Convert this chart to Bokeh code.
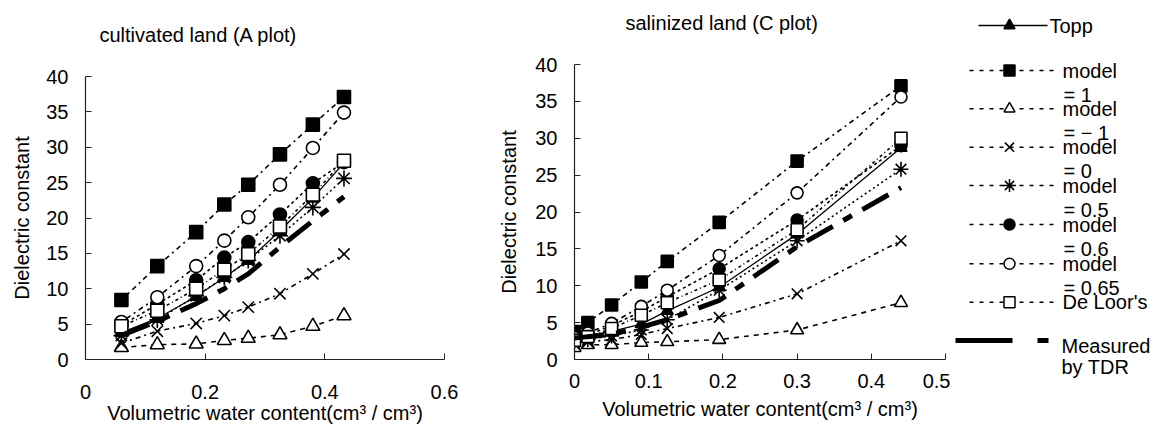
from bokeh.plotting import figure
from bokeh.layouts import row, column
from bokeh.models import Range1d, FixedTicker, PrintfTickFormatter
from bokeh.embed import file_html
from bokeh.resources import INLINE
from bokeh.core.properties import value

FONT = "Liberation Sans"

# ---------------- data: cultivated land (A plot) ----------------
theta_a = [0.06, 0.12, 0.185, 0.232, 0.272, 0.325, 0.38, 0.432]
a_topp = [3.8, 5.8, 8.9, 11.6, 14.0, 18.2, 22.8, 27.8]
a_m1 = [8.4, 13.2, 18.0, 21.9, 24.7, 29.0, 33.2, 37.1]
a_mneg1 = [1.7, 2.1, 2.2, 2.7, 3.0, 3.5, 4.7, 6.2]
a_m0 = [2.3, 4.0, 5.1, 6.2, 7.4, 9.3, 12.1, 14.9]
a_m05 = [3.4, 5.6, 9.0, 11.6, 14.0, 17.5, 21.5, 25.6]
a_m06 = [4.8, 7.8, 11.2, 14.4, 16.6, 20.5, 24.9, 27.9]
a_m065 = [5.3, 8.8, 13.2, 16.8, 20.1, 24.7, 29.9, 34.9]
a_deloor = [4.7, 6.9, 10.0, 12.7, 14.9, 18.8, 23.3, 28.1]
a_meas = [3.4, 5.4, 7.9, 10.0, 12.1, 15.9, 19.6, 23.0]

# ---------------- data: salinized land (C plot) ----------------
theta_c = [0.0, 0.018, 0.05, 0.09, 0.125, 0.195, 0.30, 0.44]
c_topp = [3.0, 3.2, 3.8, 4.8, 6.6, 9.8, 17.0, 28.7]
c_m1 = [3.8, 5.0, 7.4, 10.5, 13.3, 18.6, 26.9, 37.1]
c_mneg1 = [1.6, 2.0, 2.0, 2.3, 2.4, 2.7, 4.0, 7.7]
c_m0 = [2.1, 2.4, 2.7, 3.4, 4.2, 5.7, 8.9, 16.1]
c_m05 = [2.4, 2.7, 3.2, 4.0, 5.4, 9.4, 16.1, 25.8]
c_m06 = [2.8, 3.3, 4.6, 6.5, 8.5, 12.3, 18.9, 29.0]
c_m065 = [3.0, 3.6, 4.9, 7.2, 9.4, 14.1, 22.6, 35.6]
c_deloor = [2.6, 3.1, 4.2, 6.0, 7.7, 10.8, 17.6, 30.0]
c_meas = [2.9, 3.1, 3.4, 4.4, 5.4, 8.0, 15.3, 23.3]

# ---------------- labels ----------------
titles = ["cultivated land (A plot)", "salinized land (C plot)"]
x_label = "Volumetric water content(cm³ / cm³)"
y_label = "Dielectric constant"
y_ticks = [0, 5, 10, 15, 20, 25, 30, 35, 40]
x_ticks_a = [0, 0.2, 0.4, 0.6]
x_ticks_c = [0, 0.1, 0.2, 0.3, 0.4, 0.5]
legend_main = ["Topp", "model", "model", "model", "model", "model", "model", "De Loor's", "Measured"]
legend_sub = ["= 1", "= − 1", "= 0", "= 0.5", "= 0.6", "= 0.65", "by TDR"]

# ---------------- styles ----------------
keys = ["topp", "m1", "mneg1", "m0", "m05", "m06", "m065", "deloor"]
styles = {
    "topp":   dict(marker="triangle", fill="black", dash="solid", lw=1.3, ms=0),
    "m1":     dict(marker="square", fill="black", dash="5 4 2 4", lw=1.6, ms=0),
    "mneg1":  dict(marker="triangle", fill="white", dash="5 5", lw=1.6, ms=1),
    "m0":     dict(marker="x", fill="white", dash="5 4 2 4", lw=1.6, ms=3),
    "m05":    dict(marker="asterisk", fill="white", dash="2 3", lw=1.6, ms=3),
    "m06":    dict(marker="circle", fill="black", dash="3 3", lw=1.6, ms=0),
    "m065":   dict(marker="circle", fill="white", dash="2 4 5 4", lw=1.6, ms=0),
    "deloor": dict(marker="square", fill="white", dash="3 3 1 3", lw=1.6, ms=0),
}
MEAS_DASH = "30 12 10 12"
H = 430
TITLE_H = 50
BOTTOM = 71


def blank_fig(width, height):
    f = figure(width=width, height=height, x_range=Range1d(0, width), y_range=Range1d(height, 0),
               x_axis_location=None, y_axis_location=None, min_border=0,
               output_backend="svg", toolbar_location=None)
    f.outline_line_color = None
    f.grid.visible = False
    return f


def title_fig(width, text, tx, ty):
    f = blank_fig(width, TITLE_H)
    f.text([tx], [ty], text=[text], text_font=value(FONT), text_font_size="20px",
           text_baseline="middle", text_align="left", text_color="black")
    return f


def make_chart(theta, data, meas, xmax, xticks, width, left, right, top,
               tick_standoff_x, label_standoff_x, ylab_standoff, msize):
    p = figure(width=width, height=H - TITLE_H, x_range=Range1d(0, xmax), y_range=Range1d(0, 40),
               output_backend="svg", toolbar_location=None,
               min_border_left=left, min_border_right=right, min_border_top=top, min_border_bottom=BOTTOM)
    p.outline_line_color = None
    p.grid.visible = False
    for ax in (p.xaxis[0], p.yaxis[0]):
        ax.axis_line_color = "#222222"
        ax.axis_line_width = 1.2
        ax.major_tick_line_color = "#222222"
        ax.major_tick_in = 6
        ax.major_tick_out = 0
        ax.minor_tick_line_color = None
        ax.major_label_text_font = FONT
        ax.major_label_text_font_size = "20px"
        ax.major_label_text_color = "black"
        ax.axis_label_text_font = FONT
        ax.axis_label_text_font_size = "20px"
        ax.axis_label_text_font_style = "normal"
        ax.axis_label_text_color = "black"
        ax.formatter = PrintfTickFormatter(format="%g")
    p.xaxis[0].ticker = FixedTicker(ticks=xticks)
    p.yaxis[0].ticker = FixedTicker(ticks=y_ticks)
    p.xaxis[0].axis_label = x_label
    p.yaxis[0].axis_label = y_label
    p.xaxis[0].major_label_standoff = tick_standoff_x
    p.xaxis[0].axis_label_standoff = label_standoff_x
    p.yaxis[0].major_label_standoff = 17
    p.yaxis[0].axis_label_standoff = ylab_standoff

    for k in keys:
        s = styles[k]
        p.line(theta, data[k], line_color="black", line_width=s["lw"], line_dash=s["dash"])
    for k in keys:
        s = styles[k]
        p.scatter(theta, data[k], marker=s["marker"], size=msize + s["ms"], fill_color=s["fill"],
                  line_color="black", line_width=1.6)
    p.line(theta, meas, line_color="black", line_width=5, line_dash=MEAS_DASH, line_cap="butt")
    return p


data_a = dict(topp=a_topp, m1=a_m1, mneg1=a_mneg1, m0=a_m0, m05=a_m05, m06=a_m06, m065=a_m065, deloor=a_deloor)
data_c = dict(topp=c_topp, m1=c_m1, mneg1=c_mneg1, m0=c_m0, m05=c_m05, m06=c_m06, m065=c_m065, deloor=c_deloor)

pa = make_chart(theta_a, data_a, a_meas, 0.6, x_ticks_a, 480, 85, 36, 76 - TITLE_H, 25, 0, 10, 13)
pc = make_chart(theta_c, data_c, c_meas, 0.5, x_ticks_c, 470, 94, 5, 64 - TITLE_H, 14, 7, 12, 12)
ta = title_fig(480, titles[0], 99, 34)
tc = title_fig(470, titles[1], 145, 22)

# ---------------- legend panel ----------------
LW = 204
lg = blank_fig(LW, H)

row_y = [25, 70, 108.3, 146.7, 185, 224, 263.3, 301.7, 340]
sub_y = [94, 132.3, 170.7, 209.3, 248.3, 287.3, 366.7]

lg.line([28, 97], [row_y[0], row_y[0]], line_color="black", line_width=1.5)
for i, k in enumerate(keys):
    s = styles[k]
    y = row_y[i]
    if k != "topp":
        lg.line([19, 105], [y, y], line_color="black", line_width=1.5, line_dash="4 6")
    lg.scatter([59], [y], marker=s["marker"], size=11 + (2 if s["ms"] > 1 else 0), fill_color=s["fill"],
               line_color="black", line_width=1.5)

lg.line([5, 98], [row_y[8], row_y[8]], line_color="black", line_width=5, line_dash="57 25 11 100", line_cap="butt")

text_x = [99, 112, 112, 112, 112, 112, 112, 112, 111]
text_y = row_y[:8] + [345]
lg.text(text_x, text_y, text=legend_main, text_font=value(FONT), text_font_size="20px",
        text_baseline="middle", text_align="left", text_color="black")
sub_x = [113, 113, 113, 113, 113, 113, 111]
lg.text(sub_x, sub_y, text=legend_sub, text_font=value(FONT), text_font_size="20px",
        text_baseline="middle", text_align="left", text_color="black")

layout = row(column(column(ta), column(pa)), column(column(tc), column(pc)), column(lg))
open("out.html", "w").write(file_html(layout, INLINE))
